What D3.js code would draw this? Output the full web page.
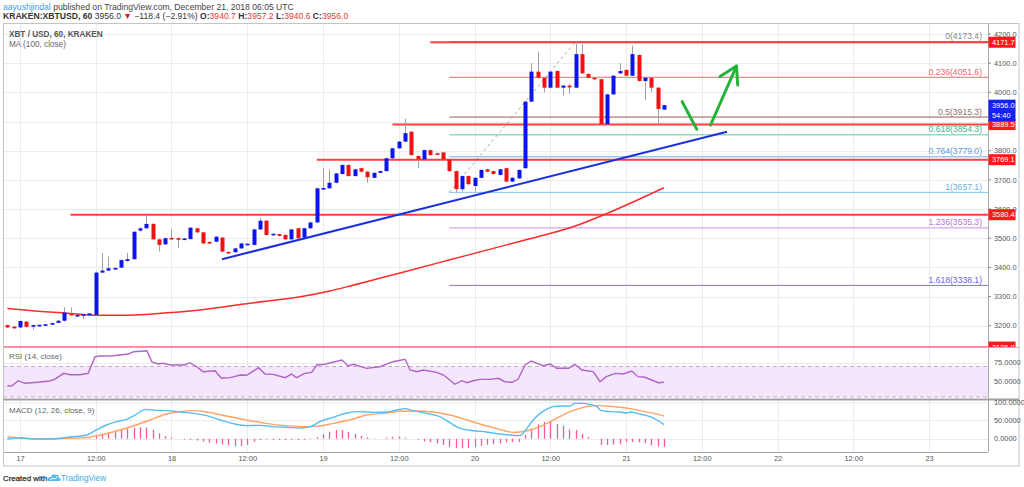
<!DOCTYPE html>
<html><head><meta charset="utf-8">
<script src="https://cdn.jsdelivr.net/npm/d3@7"></script>
<style>body{margin:0;background:#fff;} svg{display:block;font-family:"Liberation Sans",Arial,sans-serif;}</style>
</head><body><svg id="c" width="1024" height="487"></svg>
<script>
// ---------------- DATA ----------------
const firstCandle = "2018-12-16T22:00:00Z"; // hourly candles
const opens  = [3202,3197,3194,3214,3199,3201,3203,3206,3210,3217,3241,3236,3237,3236,3237,3382,3389,3397,3399,3422,3428,3526,3534,3549,3496,3479,3501,3500,3498,3497,3534,3520,3487,3488,3502,3453,3452,3465,3480,3477,3530,3560,3513,3514,3511,3496,3534,3502,3534,3554,3670,3671,3690,3720,3751,3713,3740,3728,3707,3724,3730,3774,3808,3831,3865,3782,3770,3802,3791,3794,3770,3730,3668,3713,3679,3707,3736,3730,3717,3740,3694,3705,3740,3968,4071,4050,4016,4073,4016,4023,4016,4131,4063,4050,4045,3891,3993,4065,4077,4057,4128,4039,4050,4016,3940.7];
const highs  = [3204,3199,3219,3216,3204,3204,3206,3210,3219,3264,3262,3239,3241,3244,3385,3449,3437,3400,3427,3450,3524,3536,3580,3551,3498,3502,3531,3502,3501,3538,3536,3522,3490,3507,3504,3455,3467,3484,3483,3532,3570,3562,3517,3516,3513,3532,3536,3536,3556,3673,3741,3735,3724,3753,3753,3738,3742,3730,3726,3732,3776,3810,3833,3910,3867,3784,3804,3804,3794,3796,3772,3732,3715,3715,3709,3736,3738,3732,3738,3742,3709,3736,3970,4100,4140,4052,4073,4075,4025,4030,4173,4165,4065,4052,4047,3995,4059,4100,4079,4160,4130,4052,4052,4018,3957.2];
const lows   = [3191,3189,3192,3193,3186,3199,3201,3204,3208,3215,3235,3230,3223,3234,3235,3380,3387,3395,3397,3420,3426,3522,3532,3494,3455,3477,3497,3466,3496,3495,3518,3480,3484,3486,3452,3449,3450,3463,3478,3475,3528,3509,3511,3506,3494,3494,3498,3500,3532,3552,3668,3669,3688,3718,3711,3711,3726,3690,3705,3722,3728,3772,3806,3829,3783,3740,3768,3783,3788,3768,3728,3657,3660,3683,3660,3705,3726,3718,3715,3692,3692,3703,3738,3966,4048,4000,4014,4014,3990,3995,4014,4063,4048,4043,3889,3889,3991,4063,4055,4055,4037,3975,4000,3890,3940.6];
const closes = [3194,3191,3216,3196,3202,3203,3205,3209,3217,3245,3237,3237,3239,3242,3382,3389,3397,3398,3425,3428,3522,3534,3549,3496,3477,3500,3499,3499,3499,3536,3520,3482,3486,3505,3454,3451,3465,3482,3481,3530,3560,3511,3515,3508,3496,3530,3500,3534,3554,3671,3672,3690,3722,3751,3713,3736,3728,3709,3724,3730,3774,3808,3831,3860,3785,3770,3802,3785,3790,3770,3730,3668,3713,3685,3707,3734,3728,3720,3736,3694,3707,3734,3968,4071,4050,4016,4071,4016,4023,4017,4131,4065,4050,4045,3891,3993,4057,4073,4057,4131,4039,4050,4016,3943,3956.0];

// MA(100) readings: [hours since Dec 17 00:00, price]
const maPoints = [[-2,3259],[1.6,3252],[7.4,3243],[12.2,3236],[17,3236],[23.3,3244],[28.5,3254],[36.4,3277],[44.4,3299],[49.1,3319],[52.3,3336],[60.2,3381],[68.1,3426],[76,3471],[80,3494],[87.6,3539],[93,3585],[102,3673]];

// RSI(14) readings: [hour, value]
const rsiPoints = [[-2,44.7],[-1.3,44.3],[-0.3,51.3],[0.8,47.9],[1.8,48.7],[3.2,49.6],[4.75,50.9],[5.5,53.1],[6.9,61],[7.9,59.2],[9.5,59.2],[10.8,61],[11.9,82.9],[12.7,83.8],[14.8,84.2],[17.2,86.4],[18,89.5],[20.1,90.8],[20.9,75.9],[21.9,73.3],[22.7,74.2],[23.8,72],[26.1,72],[26.9,75],[28,69.7],[29,63.2],[30.9,64.5],[31.9,54.5],[33.3,55.3],[34.9,58.8],[35.9,58.4],[37.8,68.4],[38.8,60.1],[40.1,59.7],[42,55.3],[43,60.1],[43.8,55.3],[45.1,61],[46.2,62.3],[47,72],[48.3,72.9],[51,78.6],[52,70.7],[52.8,72.9],[54.9,67.6],[57,69.7],[59.1,76.3],[61,79.5],[61.8,65.4],[62.8,63.2],[63.9,65.4],[66,62.3],[67.1,58.8],[68.9,46.6],[70,51.3],[70.8,48.7],[71.8,51.3],[72.9,53.1],[74.5,53.1],[75.8,54.5],[76.8,50],[77.9,49.2],[78.9,53.1],[80,72],[81,77.2],[81.9,74.2],[82.9,71],[84,73.3],[85,67.6],[86.9,67.6],[87.9,72.9],[89,65.4],[90.8,63.2],[91.9,50],[92.9,56.6],[94.3,61],[95.6,60.1],[96.9,64.1],[97.9,56.6],[99,55.8],[101.1,48.7],[102,49.2]];
const rsiUpper = 70, rsiLower = 30;

// MACD(12,26,9) readings: [hour, value]
const macdPoints = [[-2,-0.8],[0,2.8],[2.1,-0.8],[4.75,-0.8],[7.4,3.7],[10.6,10.1],[12.1,23.8],[13.7,37.4],[15.3,46.5],[16.9,52.9],[18.5,67.5],[19.8,80.2],[21.6,77.5],[23.2,76.6],[25.4,73],[27.5,69.3],[29.6,62.9],[31.7,51.1],[33.8,41.1],[35.9,35.6],[38,36.5],[40.1,32.9],[42.2,31.1],[44.4,29.2],[46,32.9],[47.5,46.5],[49.6,58.4],[51.8,70.2],[53.9,73.9],[56,72],[58.1,72.9],[59.7,78.4],[61,82.1],[62.3,76.6],[64.4,69.3],[66.5,60.2],[68.1,43.8],[69.7,28.3],[71.8,21.9],[73.9,18.3],[76,12.8],[77.6,10.1],[79.2,8.3],[80.3,28.3],[81.3,51.1],[82.4,69.3],[83.4,80.2],[84.5,87.5],[86.1,89.3],[87.1,89.3],[87.9,96.6],[89.2,96.6],[90.3,93.9],[91.4,87.5],[92.1,76.6],[93.5,73.9],[95,72.9],[96.1,70.2],[96.6,72.9],[98.2,67.5],[99.8,60.2],[100.9,51.1],[102,38.3]];
const signalPoints = [[-2,5.6],[0,1.9],[2.1,0.1],[4.75,0],[7.4,1],[10.6,3.7],[12.7,10.1],[15.3,21],[17.95,34.7],[20.6,51.1],[23.2,67.5],[25.4,73.9],[26.9,76.6],[29.6,73],[32.7,62],[35.9,51.1],[39,42],[42.2,35.6],[45.4,32.9],[47.5,34.7],[49.6,42],[52.8,53.8],[54.9,64.8],[57.6,69.3],[60.2,74.8],[62.8,75.7],[65.5,73],[68.1,64.8],[70.8,51.1],[73.4,37.4],[76,25.6],[78.1,17.4],[79.2,18.3],[80.8,23.8],[82.4,32.9],[84,46.5],[85.5,60.2],[87.1,73.9],[88.7,83],[90.3,89.3],[91.9,90.3],[94,87.5],[96.1,83.9],[98.2,76.6],[100.4,69.3],[102,62]];
// histogram, one value per candle
const histValues = [0,0,0,-1,-1,-1,0,0,1,1,2,2,2,3,8,12,16,22,25,28,30,31,31,24,15,7,4,0,-2,-3,-5,-8,-11,-13,-16,-18,-20,-20,-17,-8,-4,-2,-3,-4,-4,-3,-4,-3,-1,5,12,19,24,24,19,13,8,4,1,0,3,5,6,3,0,-3,-8,-10,-13,-17,-22,-26,-26,-25,-23,-20,-17,-15,-13,-10,-9,-9,10,28,40,46,46,40,35,25,24,13,5,0,-17,-17,-16,-15,-9,-9,-10,-12,-18,-21,-23];

// horizontal support / resistance lines: price, start hour
const hLevels = [4171.7, 3889.5, 3769.1, 3580.4, 3126.8];
const hStarts = [65, 59, 47, 8, -3];

// Fibonacci retracement
const fibRatios = ["0","0.236","0.5","0.618","0.764","1","1.236","1.618"];
const fibPrices = [4173.4, 4051.6, 3915.3, 3854.3, 3779.0, 3657.1, 3535.3, 3338.1];
const fibLow = [68, 3657.1], fibHigh = [88, 4173.4];

// trend line and arrows: [hour, price]
const trendLine = [[32, 3428], [112, 3865]];
const arrowDown = [[104.9, 3968], [107.2, 3874]];
const arrowUp = [[109.4, 3888], [113.5, 4090]];
const arrowHead = [[110.9, 4054], [113.5, 4090], [113.7, 4025]];

const priceTicks = [3200,3300,3400,3500,3600,3700,3800,4000,4100,4200];
const rsiTicks = [75, 50];
const macdTicks = [100, 50, 0];
const lastPrice = 3956.0, countdown = "54:40";

// ---------------- DRAW ----------------
const svg = d3.select("#c");
const base = Date.parse("2018-12-17T00:00:00Z");
const T = h => new Date(base + h * 3600e3);
const t0 = Date.parse(firstCandle);
const candles = opens.map((o, i) => ({t: new Date(t0 + i * 3600e3), o, h: highs[i], l: lows[i], c: closes[i], hist: histValues[i]}));

const PL = 3, PR = 988, FR = 1019;
const mainTop = 23, mainBot = 347, rsiTop = 348, rsiBot = 399, macdTop = 400, macdBot = 452, axBot = 466;

const x = d3.scaleUtc().domain([T(0), T(144)]).range([20, 929]);
const y = d3.scaleLinear().domain([3200, 4200]).range([325.7, 34]);
const yR = d3.scaleLinear().domain([50, 75]).range([381.7, 362.7]);
const yM = d3.scaleLinear().domain([0, 100]).range([438.7, 402.1]);

const defs = svg.append("defs");
function clip(id, y0, y1, x1 = PR) {
  defs.append("clipPath").attr("id", id).append("rect").attr("x", PL).attr("y", y0).attr("width", x1 - PL).attr("height", y1 - y0);
}
clip("cMain", mainTop, mainBot); clip("cRsi", rsiTop, rsiBot); clip("cMacd", macdTop, macdBot);
clip("cAxis", mainTop, mainBot, FR);

svg.append("rect").attr("width", 1024).attr("height", 487).attr("fill", "#fff");

// header
const hdr = svg.append("text").attr("x", 3).attr("y", 9.5).attr("font-size", 8.6).attr("fill", "#444");
hdr.append("tspan").attr("fill", "#3d9ee8").text("aayushjindal");
hdr.append("tspan").text(" published on TradingView.com, December 21, 2018 06:05 UTC");
const h2 = svg.append("text").attr("x", 3).attr("y", 18.8).attr("font-size", 8.6).attr("fill", "#333");
h2.append("tspan").attr("font-weight", "bold").text("KRAKEN:XBTUSD, 60");
h2.append("tspan").text(" 3956.0 ");
h2.append("tspan").attr("fill", "#e0202a").text("▼");
h2.append("tspan").text(" −118.4 (−2.91%) ");
[["O:", "3940.7"], ["H:", "3957.2"], ["L:", "3940.6"], ["C:", "3956.0"]].forEach(([k, v], i) => {
  h2.append("tspan").attr("font-weight", "bold").text((i ? " " : "") + k);
  h2.append("tspan").attr("fill", "#e53935").text(v);
});

// grid
const timeTicks = d3.range(0, 145, 12).map(T);
const grid = svg.append("g").attr("stroke", "#ececec").attr("stroke-width", 1);
timeTicks.forEach(t => grid.append("line").attr("x1", Math.round(x(t)) + 0.5).attr("x2", Math.round(x(t)) + 0.5).attr("y1", mainTop).attr("y2", macdBot));
d3.range(3200, 4201, 100).forEach(p => grid.append("line").attr("x1", PL).attr("x2", PR).attr("y1", Math.round(y(p)) + 0.5).attr("y2", Math.round(y(p)) + 0.5));
rsiTicks.forEach(v => grid.append("line").attr("x1", PL).attr("x2", PR).attr("y1", Math.round(yR(v)) + 0.5).attr("y2", Math.round(yR(v)) + 0.5));
macdTicks.forEach(v => grid.append("line").attr("x1", PL).attr("x2", PR).attr("y1", Math.round(yM(v)) + 0.5).attr("y2", Math.round(yM(v)) + 0.5));

// ---- main pane
const gm = svg.append("g").attr("clip-path", "url(#cMain)");

// fib levels
const fibLine = ["#9e9e9e", "#f26a6a", "#9a5c5c", "#5cc9a2", "#6aaee0", "#86c6e6", "#c98fe0", "#7b78d8"];
const fibText = ["#8a8a8a", "#e06a6a", "#8c7272", "#45b088", "#5a9bd0", "#6bb2de", "#b476d4", "#6b68c8"];
fibPrices.forEach((p, i) => {
  gm.append("line").attr("x1", x(T(fibLow[0]))).attr("x2", PR).attr("y1", y(p)).attr("y2", y(p)).attr("stroke", fibLine[i]).attr("stroke-width", 1);
});
gm.append("line").attr("x1", x(T(fibLow[0]))).attr("y1", y(fibLow[1])).attr("x2", x(T(fibHigh[0]))).attr("y2", y(fibHigh[1]))
  .attr("stroke", "#aaa").attr("stroke-width", 1).attr("stroke-dasharray", "3,3");

// MA
const lineH = d3.line().x(d => x(T(d[0]))).y(d => y(d[1])).curve(d3.curveMonotoneX);
gm.append("path").attr("d", lineH(maPoints)).attr("fill", "none").attr("stroke", "#ff2a2a").attr("stroke-width", 1.5);

// horizontal red lines
hLevels.forEach((p, i) => {
  gm.append("line").attr("x1", x(T(hStarts[i]))).attr("x2", PR).attr("y1", y(p)).attr("y2", y(p))
    .attr("stroke", "#ff2020").attr("stroke-opacity", i === 4 ? 0.5 : 0.85).attr("stroke-width", 2);
});

// candles
const cw = 4;
gm.selectAll("line.wick").data(candles).join("line").attr("class", "wick")
  .attr("x1", d => Math.round(x(d.t)) + 0.5).attr("x2", d => Math.round(x(d.t)) + 0.5)
  .attr("y1", d => y(d.h)).attr("y2", d => y(d.l)).attr("stroke", "#a0a0a0").attr("stroke-width", 1);
gm.selectAll("rect.body").data(candles).join("rect").attr("class", "body")
  .attr("x", d => Math.round(x(d.t)) + 0.5 - cw / 2).attr("width", cw)
  .attr("y", d => y(Math.max(d.o, d.c)))
  .attr("height", d => Math.max(1.6, Math.abs(y(d.o) - y(d.c))))
  .attr("fill", d => d.c >= d.o ? "#0c14ee" : "#f01212");

// trend line
gm.append("line").attr("x1", x(T(trendLine[0][0]))).attr("y1", y(trendLine[0][1])).attr("x2", x(T(trendLine[1][0]))).attr("y2", y(trendLine[1][1]))
  .attr("stroke", "#1b2fe0").attr("stroke-width", 2);

// arrows
const lineS = d3.line().x(d => x(T(d[0]))).y(d => y(d[1]));
[arrowDown, arrowUp, arrowHead].forEach(a => gm.append("path").attr("d", lineS(a)).attr("fill", "none")
  .attr("stroke", "#25b23a").attr("stroke-width", 3).attr("stroke-linecap", "round").attr("stroke-linejoin", "round"));

// fib labels
fibPrices.forEach((p, i) => {
  gm.append("text").attr("x", 982).attr("y", y(p) - 2.5).attr("text-anchor", "end").attr("font-size", 8.6)
    .attr("fill", fibText[i]).text(fibRatios[i] + "(" + p.toFixed(1) + ")");
});

// pane titles
svg.append("text").attr("x", 9).attr("y", 36.5).attr("font-size", 8.2).attr("font-weight", "bold").attr("fill", "#555").text("XBT / USD, 60, KRAKEN");
svg.append("text").attr("x", 9).attr("y", 46.5).attr("font-size", 8.2).attr("fill", "#666").text("MA (100, close)");

// ---- RSI pane
const gr = svg.append("g").attr("clip-path", "url(#cRsi)");
gr.append("rect").attr("x", PL).attr("width", PR - PL).attr("y", yR(rsiUpper)).attr("height", yR(rsiLower) - yR(rsiUpper)).attr("fill", "#f4e6fc");
[rsiUpper, rsiLower].forEach(v => gr.append("line").attr("x1", PL).attr("x2", PR).attr("y1", yR(v)).attr("y2", yR(v))
  .attr("stroke", "#c7a9d6").attr("stroke-dasharray", "4,3"));
const lineR = d3.line().x(d => x(T(d[0]))).y(d => yR(d[1]));
gr.append("path").attr("d", lineR(rsiPoints)).attr("fill", "none").attr("stroke", "#b262c8").attr("stroke-width", 1.4);
svg.append("text").attr("x", 9).attr("y", 359).attr("font-size", 8).attr("fill", "#666").text("RSI (14, close)");

// ---- MACD pane
const gq = svg.append("g").attr("clip-path", "url(#cMacd)");
gq.selectAll("line.hist").data(candles).join("line").attr("class", "hist")
  .attr("x1", d => Math.round(x(d.t)) + 0.5).attr("x2", d => Math.round(x(d.t)) + 0.5)
  .attr("y1", yM(0)).attr("y2", d => yM(d.hist)).attr("stroke", "#ff5797").attr("stroke-width", 1.3);
const lineM = d3.line().x(d => x(T(d[0]))).y(d => yM(d[1])).curve(d3.curveMonotoneX);
gq.append("path").attr("d", lineM(signalPoints)).attr("fill", "none").attr("stroke", "#ffa366").attr("stroke-width", 1.4);
gq.append("path").attr("d", lineM(macdPoints)).attr("fill", "none").attr("stroke", "#55bdf2").attr("stroke-width", 1.4);
svg.append("text").attr("x", 9).attr("y", 413).attr("font-size", 8).attr("fill", "#666").text("MACD (12, 26, close, 9)");

// ---- frame & separators
svg.append("rect").attr("x", 3.5).attr("y", 23.5).attr("width", FR - 3.5).attr("height", axBot - 23.5).attr("fill", "none").attr("stroke", "#c4c4c4");
svg.append("line").attr("x1", PR + 0.5).attr("x2", PR + 0.5).attr("y1", mainTop).attr("y2", macdBot).attr("stroke", "#a8a8a8");
svg.append("line").attr("x1", PL).attr("x2", FR).attr("y1", 347.5).attr("y2", 347.5).attr("stroke", "#b8b8b8");
svg.append("line").attr("x1", PL).attr("x2", FR).attr("y1", 399.5).attr("y2", 399.5).attr("stroke", "#a0a0a0").attr("stroke-width", 2);
svg.append("line").attr("x1", PL).attr("x2", PR).attr("y1", 452.5).attr("y2", 452.5).attr("stroke", "#a8a8a8");

// ---- price axis
const pa = svg.append("g").attr("clip-path", "url(#cAxis)");
priceTicks.forEach(p => {
  pa.append("line").attr("x1", PR).attr("x2", PR + 3).attr("y1", y(p)).attr("y2", y(p)).attr("stroke", "#888");
  pa.append("text").attr("x", 994).attr("y", y(p) + 2.7).attr("font-size", 7.4).attr("fill", "#555").text(p.toFixed(1));
});
function box(g, cy, txt, col) {
  g.append("rect").attr("x", PR + 0.5).attr("y", cy - 5.5).attr("width", 27).attr("height", 11).attr("fill", col);
  g.append("text").attr("x", PR + 4).attr("y", cy + 2.6).attr("font-size", 7.4).attr("fill", "#fff").text(txt);
}
hLevels.forEach(p => box(pa, y(p), p.toFixed(1), "#ff1a1a"));
box(pa, y(lastPrice), lastPrice.toFixed(1), "#1620f0");
box(pa, y(lastPrice) + 10.5, countdown, "#1620f0");

rsiTicks.forEach(v => svg.append("text").attr("x", 994).attr("y", yR(v) + 2.7).attr("font-size", 7.4).attr("fill", "#555").text(v.toFixed(4)));
macdTicks.forEach(v => svg.append("text").attr("x", 994).attr("y", yM(v) + 2.7).attr("font-size", 7.4).attr("fill", "#555").text(v.toFixed(4)));

// ---- time axis
const xAxis = d3.axisBottom(x).tickValues(timeTicks).tickSize(0).tickPadding(0)
  .tickFormat(d => d.getUTCHours() === 12 ? "12:00" : String(d.getUTCDate()));
const ga = svg.append("g").attr("transform", `translate(0,${456})`).call(xAxis);
ga.select(".domain").remove();
ga.selectAll("text").attr("font-size", 7.4).attr("fill", "#555").attr("font-family", "Liberation Sans, Arial, sans-serif");

// ---- footer
svg.append("text").attr("x", 3).attr("y", 480.5).attr("font-size", 7.9).attr("fill", "#333").attr("stroke", "#333").attr("stroke-width", 0.25).text("Created with");
const logo = svg.append("g").attr("transform", "translate(47,473)");
logo.append("path").attr("d", "M1,8 Q0,4 4,4 Q5,0 9,2 Q12,1 12,5 Q15,6 13,8 Z").attr("fill", "#55b9ea");
logo.append("path").attr("d", "M3,7 L6,5 L8,6 L11,3").attr("stroke", "#fff").attr("stroke-width", 1).attr("fill", "none");
svg.append("text").attr("x", 61).attr("y", 480.5).attr("font-size", 8.2).attr("fill", "#3ea9e2").text("TradingView");
</script>
</body></html>
